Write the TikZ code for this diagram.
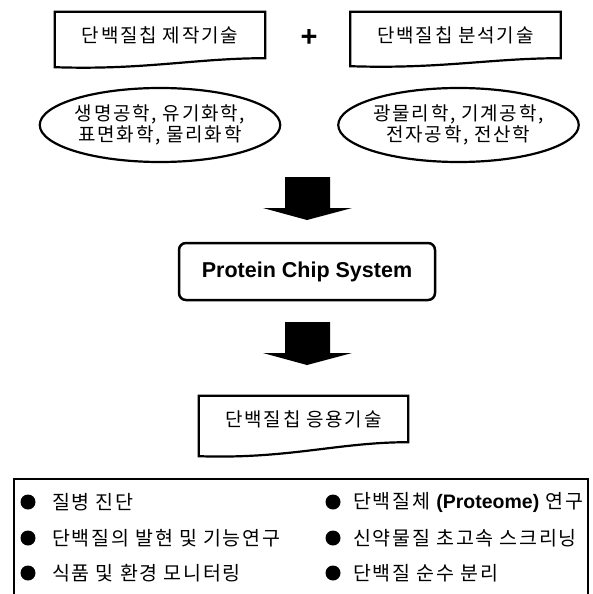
\documentclass[tikz,border=0pt]{standalone}
\usepackage{fontspec}
\setmainfont{Liberation Sans}
\newfontfamily\kr[LetterSpace=9]{Noto Sans CJK KR}
\usetikzlibrary{shapes.geometric}

\begin{document}
\begin{tikzpicture}[x=1pt,y=-1pt,
	doc/.style={minimum width=210pt,minimum height=46pt,inner sep=0pt,font=\kr\fontsize{19}{22}\selectfont},
	ell/.style={shape=ellipse,draw=black,line width=2.2pt,minimum width=229pt,minimum height=74pt,inner sep=0pt,align=center,font=\kr\fontsize{19}{21.5}\selectfont},
	dot/.style={shape=circle,fill=black,minimum size=15pt,inner sep=0pt},
	item/.style={anchor=west,inner sep=0pt,font=\kr\fontsize{19.5}{22}\selectfont}]
	
	\useasboundingbox (0,0) rectangle (592,594);
	
	\node[doc] (fab) at (160,35)     {단백질칩 제작기술};
	\node[doc] (ana) at (455.5,35)   {단백질칩 분석기술};
	\node[font=\bfseries\fontsize{29}{29}\selectfont] (plus) at (309,38) {+};
	\node[ell] (bio) at (160,125)    {생명공학, 유기화학,\\표면화학, 물리화학};
	\node[ell] (eng) at (458.5,125)  {광물리학, 기계공학,\\전자공학, 전산학};
	\node[draw=black,line width=2.5pt,rounded corners=7pt,minimum width=256pt,minimum height=57pt,
	      font=\bfseries\fontsize{21.5}{24}\selectfont] (pcs) at (307,271.5) {Protein Chip System};
	\node[doc,minimum width=209pt] (app) at (303.5,419) {단백질칩 응용기술};
	\node[draw=black,line width=2pt,anchor=north west,minimum width=574pt,minimum height=125pt] (uses) at (13,478) {};
	
	\foreach \n/\d in {fab/9,ana/8,app/14}
		\draw[line width=2.2pt] ([shift={(0,\d)}]\n.south west) -- (\n.north west) -- (\n.north east) -- (\n.south east)
			.. controls +(-70,0) and +(90,3) .. ([shift={(0,\d)}]\n.south west) -- cycle;
	
	\foreach \y in {177,322}
		\fill (285,\y) -- ++(45,0) -- ++(0,31) -- ++(22,0) -- ++(-45,12) -- ++(-44,-12) -- ++(22,0) -- cycle;
	
	\node[dot] (d1) at (28,502)  {};
	\node[dot] (d2) at (28,538)  {};
	\node[dot] (d3) at (28,573)  {};
	\node[dot] (d4) at (333,502) {};
	\node[dot] (d5) at (333,538) {};
	\node[dot] (d6) at (333,573) {};
	\node[item] (t1) at (52,502)  {질병 진단};
	\node[item] (t2) at (52,538)  {단백질의 발현 및 기능연구};
	\node[item] (t3) at (52,573)  {식품 및 환경 모니터링};
	\node[item] (t4) at (353,502) {단백질체 {\rmfamily\bfseries (Proteome)} 연구};
	\node[item] (t5) at (353,538) {신약물질 초고속 스크리닝};
	\node[item] (t6) at (353,573) {단백질 순수 분리};
	
\end{tikzpicture}
\end{document}
